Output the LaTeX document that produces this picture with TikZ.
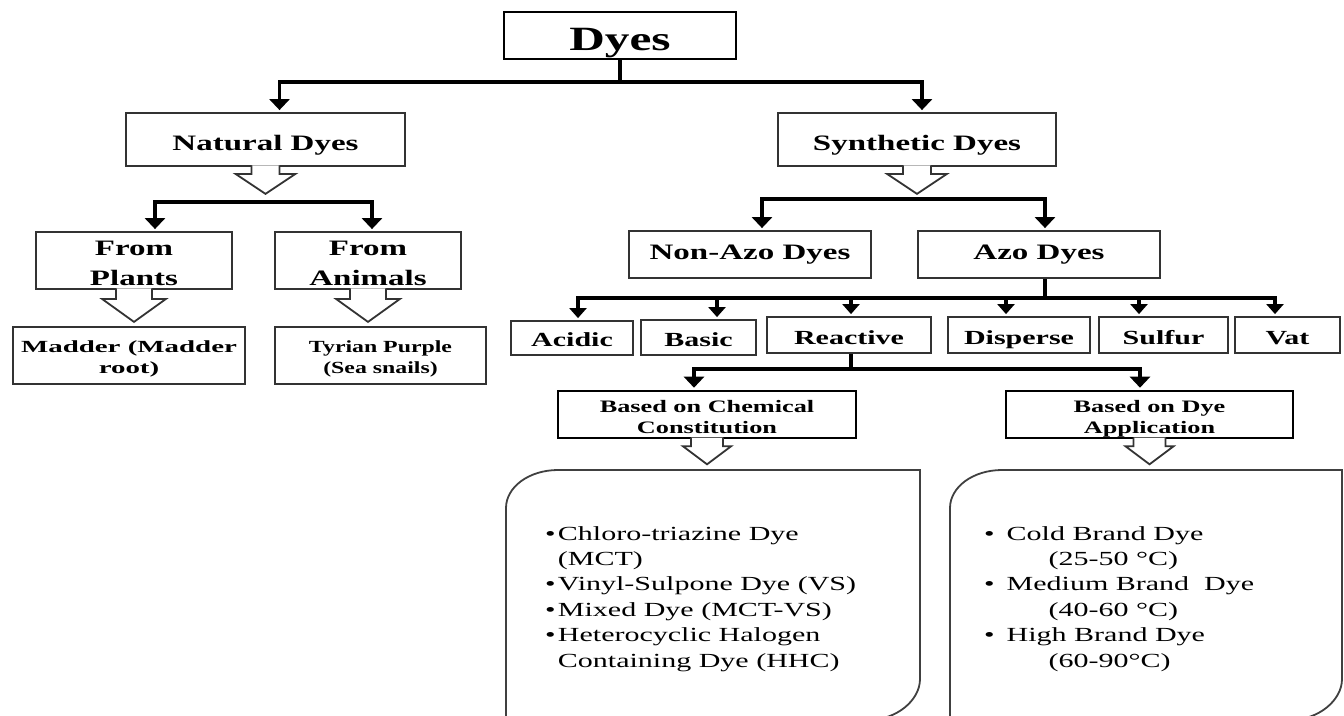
\documentclass[tikz,border=0pt]{standalone}
\usepackage{fontspec}
\setmainfont{Liberation Serif}
\usepackage{graphicx}
\usetikzlibrary{arrows.meta}
% \lbl[stretch]{vertical offset}{content}: content set with zero height/depth, baseline moved by offset
\newcommand{\lbl}[3][1.5]{\raisebox{#2}[0pt][0pt]{\scalebox{#1}[1]{#3}}}
\newcommand{\sx}[2][1.5]{\scalebox{#1}[1]{#2}}
\newcommand{\harrow}[5]{%
  \filldraw[hollow] ([shift={(-#2,-1.6)}]#1.south) -- ([shift={(-#2,#4)}]#1.south) -- ([shift={(-#3,#4)}]#1.south) -- ([shift={(0,#5)}]#1.south) -- ([shift={(#3,#4)}]#1.south) -- ([shift={(#2,#4)}]#1.south) -- ([shift={(#2,-1.6)}]#1.south);}
\tikzset{
  box/.style={draw=black!80, line width=1.8pt, inner sep=0pt, fill=white},
  boxk/.style={draw=black, line width=2.6pt, inner sep=0pt, fill=white},
  conn/.style={draw=black, line width=3.5pt, -{Triangle[width=20pt,length=11pt]}, shorten >=2pt},
  connS/.style={draw=black, line width=3.2pt, -{Triangle[width=17pt,length=10pt]}, shorten >=2pt},
  stemline/.style={draw=black, line width=3.5pt},
  hollow/.style={draw=black!80, line width=1.8pt, fill=white, line join=miter},
  rbox/.style={draw=black!75, line width=1.8pt},
  listtext/.style={anchor=base west, inner sep=0pt}
}
\begin{document}
\begin{tikzpicture}[x=1pt,y=-1pt]
\useasboundingbox (0,0) rectangle (1344,715);
\clip (0,0) rectangle (1344,715);

% level 0
\node[boxk, minimum width=232pt, minimum height=47pt] (dyes) at (620,35.5)
  {\lbl[1.45]{-14.5pt}{\fontsize{34}{36}\selectfont\bfseries Dyes}};

% level 1
\node[box, minimum width=279pt, minimum height=53pt] (natural) at (265.5,139.5)
  {\lbl{-10.5pt}{\fontsize{22}{26}\selectfont\bfseries Natural Dyes}};
\node[box, minimum width=278pt, minimum height=53pt] (synthetic) at (917,139.5)
  {\lbl{-10.5pt}{\fontsize{22}{26}\selectfont\bfseries Synthetic Dyes}};

% natural branch
\node[box, minimum width=196pt, minimum height=57pt] (plants) at (134,260.5)
  {\lbl{5.5pt}{\fontsize{22}{30}\selectfont\bfseries\begin{tabular}[t]{@{}c@{}}From\\Plants\end{tabular}}};
\node[box, minimum width=186pt, minimum height=57pt] (animals) at (368,260.5)
  {\lbl{5.5pt}{\fontsize{22}{30}\selectfont\bfseries\begin{tabular}[t]{@{}c@{}}From\\Animals\end{tabular}}};
\node[box, minimum width=232pt, minimum height=57pt] (madder) at (129,355.5)
  {\lbl[1.7]{3.5pt}{\fontsize{17}{21.5}\selectfont\bfseries\begin{tabular}[t]{@{}c@{}}Madder (Madder\\root)\end{tabular}}};
\node[box, minimum width=211pt, minimum height=57pt] (tyrian) at (380.5,355.5)
  {\lbl[1.4]{3.5pt}{\fontsize{17}{21.5}\selectfont\bfseries\begin{tabular}[t]{@{}c@{}}Tyrian Purple\\(Sea snails)\end{tabular}}};

% synthetic branch
\node[box, minimum width=242pt, minimum height=47pt] (nonazo) at (750,254.5)
  {\lbl{-4.5pt}{\fontsize{22}{26}\selectfont\bfseries Non-Azo Dyes}};
\node[box, minimum width=242pt, minimum height=47pt] (azo) at (1039,254.5)
  {\lbl{-4.5pt}{\fontsize{22}{26}\selectfont\bfseries Azo Dyes}};

\node[box, minimum width=122pt, minimum height=34pt] (acidic) at (572,338)
  {\lbl{-8.5pt}{\fontsize{20}{24}\selectfont\bfseries Acidic}};
\node[box, minimum width=115pt, minimum height=35pt] (basic) at (698.5,337.5)
  {\lbl{-9pt}{\fontsize{20}{24}\selectfont\bfseries Basic}};
\node[box, minimum width=164pt, minimum height=36pt] (reactive) at (849,335)
  {\lbl{-9.5pt}{\fontsize{20}{24}\selectfont\bfseries Reactive}};
\node[box, minimum width=142pt, minimum height=36pt] (disperse) at (1019,335)
  {\lbl{-9.5pt}{\fontsize{20}{24}\selectfont\bfseries Disperse}};
\node[box, minimum width=129pt, minimum height=36pt] (sulfur) at (1163.5,335)
  {\lbl{-9.5pt}{\fontsize{20}{24}\selectfont\bfseries Sulfur}};
\node[box, minimum width=105pt, minimum height=36pt] (vat) at (1287.5,335)
  {\lbl{-9.5pt}{\fontsize{20}{24}\selectfont\bfseries Vat}};

\node[boxk, minimum width=298pt, minimum height=47pt] (chem) at (707,414.5)
  {\lbl{2.5pt}{\fontsize{17.5}{21}\selectfont\bfseries\begin{tabular}[t]{@{}c@{}}Based on Chemical\\Constitution\end{tabular}}};
\node[boxk, minimum width=287pt, minimum height=47pt] (app) at (1149.5,414.5)
  {\lbl{2.5pt}{\fontsize{17.5}{21}\selectfont\bfseries\begin{tabular}[t]{@{}c@{}}Based on Dye\\Application\end{tabular}}};

% junction coordinates
\coordinate (b0) at (620,82);
\coordinate (nb) at (266,202);
\coordinate (sb) at (917,199);
\coordinate (ab) at (1045,298);
\coordinate (rb) at (851,369);

% connectors
\draw[conn] (dyes.south) -- (b0) -| ([xshift=14pt]natural.north);
\draw[conn] (b0) -| ([xshift=5pt]synthetic.north);

\draw[conn] (nb) -| ([xshift=21pt]plants.north);
\draw[conn] (nb) -| ([xshift=4pt]animals.north);

\draw[conn] (sb) -| ([xshift=12pt]nonazo.north);
\draw[conn] (sb) -| ([xshift=6pt]azo.north);

\draw[stemline] ([xshift=6pt]azo.south) -- (ab);
\draw[connS] (ab) -| ([xshift=6pt]acidic.north);
\draw[connS] (ab) -| ([xshift=18.5pt]basic.north);
\draw[connS] (ab) -| ([xshift=2pt]reactive.north);
\draw[connS] (ab) -| ([xshift=-13pt]disperse.north);
\draw[connS] (ab) -| ([xshift=-24.5pt]sulfur.north);
\draw[connS] (ab) -| ([xshift=-12.5pt]vat.north);

\draw[stemline] ([xshift=2pt]reactive.south) -- (rb);
\draw[conn] (rb) -| ([xshift=-13pt]chem.north);
\draw[conn] (rb) -| ([xshift=-9.5pt]app.north);

% hollow block arrows
\harrow{natural}{14}{30}{7}{27}
\harrow{synthetic}{14}{30}{7}{27}
\harrow{plants}{18}{32}{9}{32}
\harrow{animals}{18}{32}{9}{32}
\harrow{chem}{16}{24}{7}{25}
\harrow{app}{16}{24}{7}{25}

% rounded list boxes
\draw[rbox] (506,720) -- (506,508) .. controls (506,487) and (529,470) .. (558,470)
  -- (920,470) -- (920,679) .. controls (920,700) and (897,720) .. (868,720);
\draw[rbox] (950,720) -- (950,508) .. controls (950,487) and (973,470) .. (1002,470)
  -- (1342,470) -- (1342,679) .. controls (1342,700) and (1319,720) .. (1290,720);

\node[listtext] (chemlist) at (545,540)
  {\sx{\fontsize{20}{25.4}\selectfont\begin{tabular}[t]{@{}l@{}}
  •\hspace{1.5pt}Chloro-triazine Dye\\
  \hphantom{•}\hspace{1.5pt}(MCT)\\
  •\hspace{1.5pt}Vinyl-Sulpone Dye (VS)\\
  •\hspace{1.5pt}Mixed Dye (MCT-VS)\\
  •\hspace{1.5pt}Heterocyclic Halogen\\
  \hphantom{•}\hspace{1.5pt}Containing Dye (HHC)
  \end{tabular}}};

\node[listtext] (applist) at (984,540)
  {\sx{\fontsize{20}{25.4}\selectfont\begin{tabular}[t]{@{}l@{}}
  •\hspace{8pt}Cold Brand Dye\\
  \hphantom{•}\hspace{36pt}(25-50 °C)\\
  •\hspace{8pt}Medium Brand\ \ Dye\\
  \hphantom{•}\hspace{36pt}(40-60 °C)\\
  •\hspace{8pt}High Brand Dye\\
  \hphantom{•}\hspace{36pt}(60-90°C)
  \end{tabular}}};
\end{tikzpicture}
\end{document}
